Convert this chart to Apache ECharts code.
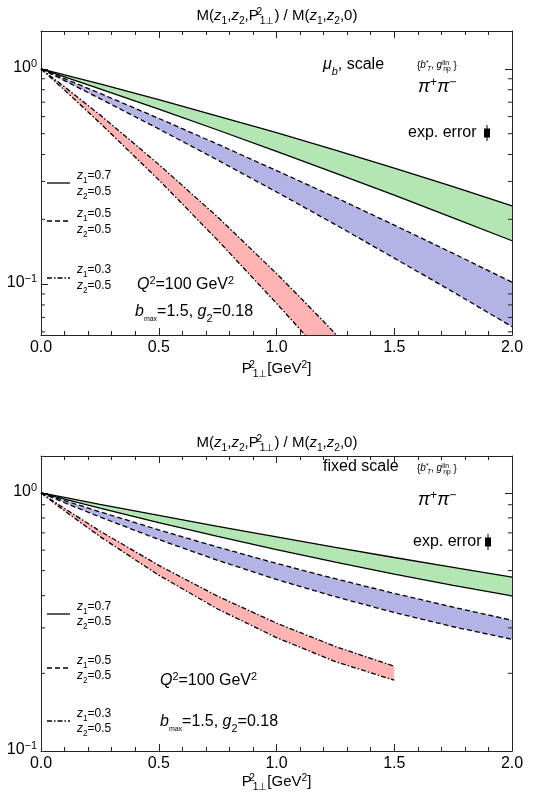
<!DOCTYPE html>
<html><head><meta charset="utf-8">
<script src="https://cdn.jsdelivr.net/npm/echarts@6/dist/echarts.min.js"></script>
<style>html,body{margin:0;padding:0;background:#fff}#c{width:547px;height:795px}</style>
</head><body><div id="c"></div>
<script>
// ---------- data ----------
const xTickLabels = ['0.0', '0.5', '1.0', '1.5', '2.0'];
const yMinorTop = [0.06, 0.07, 0.08, 0.09, 0.2, 0.3, 0.4, 0.5, 0.6, 0.7, 0.8, 0.9];
const yMinorBot = [0.2, 0.3, 0.4, 0.5, 0.6, 0.7, 0.8, 0.9];

// top panel: mu_b, scale
const topX = [0, 0.1, 0.25, 0.5, 0.75, 1.0, 1.25, 1.5, 1.75, 2.0];
const topGreenUp = [1, 0.938, 0.851, 0.719, 0.604, 0.505, 0.419, 0.346, 0.284, 0.231];
const topGreenLo = [1, 0.919, 0.808, 0.650, 0.520, 0.414, 0.328, 0.259, 0.203, 0.159];
const topBlueUp  = [1, 0.901, 0.770, 0.589, 0.447, 0.337, 0.253, 0.188, 0.139, 0.102];
const topBlueLo  = [1, 0.882, 0.728, 0.526, 0.377, 0.268, 0.189, 0.132, 0.0919, 0.0634];
const topRedX    = [0, 0.1, 0.25, 0.5, 0.75, 1.0, 1.1, 1.2, 1.3];
const topRedUp   = [1, 0.825, 0.612, 0.360, 0.205, 0.112, 0.0868, 0.0670, 0.0515];
const topRedLo   = [1, 0.797, 0.561, 0.305, 0.160, 0.0814, 0.0616, 0.0462, 0.0346];

// bottom panel: fixed scale
const botX = [0, 0.1, 0.25, 0.5, 0.75, 1.0, 1.25, 1.5, 1.75, 2.0];
const botGreenUp = [1, 0.960, 0.903, 0.818, 0.742, 0.675, 0.615, 0.562, 0.515, 0.472];
const botGreenLo = [1, 0.947, 0.874, 0.767, 0.678, 0.603, 0.539, 0.485, 0.438, 0.399];
const botBlueUp  = [1, 0.934, 0.845, 0.719, 0.617, 0.533, 0.465, 0.408, 0.361, 0.321];
const botBlueLo  = [1, 0.916, 0.807, 0.660, 0.548, 0.462, 0.396, 0.344, 0.303, 0.271];
const botRedX    = [0, 0.1, 0.25, 0.5, 0.75, 1.0, 1.25, 1.5];
const botRedUp   = [1, 0.870, 0.712, 0.524, 0.398, 0.313, 0.254, 0.213];
const botRedLo   = [1, 0.852, 0.678, 0.480, 0.355, 0.275, 0.222, 0.188];

// ---------- styling ----------
const F = "'Liberation Sans', Arial, Helvetica, sans-serif";
const GREEN = '#b3e6b3', BLUE = '#b3b3e6', RED = '#ffb3b3';
const AX = '#222';
const SOLID = 'solid', DASH = [5, 3], DASHDOT = [5, 2, 1.5, 2];

function rich(fs) {
  const s = Math.round(fs * 0.68 * 10) / 10;
  const base = (size, extra) => Object.assign({fontSize: size, fontFamily: F, fill: '#000', color: '#000', verticalAlign: 'bottom'}, extra);
  const pb = Math.round(fs * 0.22), pp = Math.round(fs * 0.62);
  return {
    n: base(fs, {padding: [0, 0, pb, 0]}),
    i: base(fs, {padding: [0, 0, pb, 0], fontStyle: 'italic'}),
    s: base(s, {padding: [0, 0, 0, 0]}),
    si: base(s, {padding: [0, 0, 0, 0], fontStyle: 'italic'}),
    t: base(Math.round(fs * 0.45), {padding: [0, 0, 1, 0]}),
    p: base(s, {padding: [0, 0, pp, 0]}),
    pi: base(s, {padding: [0, 0, pp, 0], fontStyle: 'italic'}),
    p0: base(s, {padding: [0, 0, pp, 0], width: 1}),
    p0i: base(s, {padding: [0, 0, pp, 0], width: 1, fontStyle: 'italic'})
  };
}
function txt(x, y, text, fs, align) {
  return {type: 'text', x: x, y: y, z: 100, silent: true,
    style: {text: text, rich: rich(fs), fill: '#000', align: align || 'left', verticalAlign: 'middle', fontSize: fs, fontFamily: F}};
}
function hline(x1, x2, y, dash) {
  return {type: 'line', z: 100, silent: true, shape: {x1: x1, y1: y, x2: x2, y2: y},
    style: {stroke: '#000', lineWidth: 1.3, lineDash: dash === SOLID ? null : dash}};
}
function errMark(x, y) {
  return [
    {type: 'line', z: 100, silent: true, shape: {x1: x, y1: y - 8, x2: x, y2: y + 8}, style: {stroke: '#000', lineWidth: 1}},
    {type: 'rect', z: 100, silent: true, shape: {x: x - 3, y: y - 4.5, width: 6, height: 9}, style: {fill: '#000'}}
  ];
}

const TITLE = '{n|M(}{i|z}{s|1}{n|,}{i|z}{s|2}{n|,P}{p0|2}{s|1⊥}{n|) / M(}{i|z}{s|1}{n|,}{i|z}{s|2}{n|,0)}';
const XNAME = '{n|P}{p0|2}{s|1⊥}{n|[GeV}{p|2}{n|]}';
const BT = '{{i|b}{p0|*}{si|T}{n|, }{i|g}{p0|lin}{s|np}{n| }}';

// ---------- axes ----------
function xAx(g, pos, lab, nameGap) {
  return {type: 'value', gridIndex: g, position: pos, min: 0, max: 2, interval: 0.5,
    axisLine: {show: true, onZero: false, lineStyle: {color: AX, width: 1}},
    axisTick: {show: true, inside: true, length: 7, lineStyle: {color: AX}},
    minorTick: {show: true, splitNumber: 5, length: 4, lineStyle: {color: AX}},
    splitLine: {show: false}, minorSplitLine: {show: false},
    axisLabel: {show: lab, margin: 5, color: '#000', fontSize: 16, fontFamily: F,
      formatter: v => xTickLabels[Math.round(v / 0.5)] || ''},
    name: lab ? XNAME : '', nameLocation: 'middle', nameGap: nameGap || 0,
    nameTextStyle: {rich: rich(15), fontSize: 15, fontFamily: F, color: '#000'}
  };
}
function yAx(g, pos, lab, min, max) {
  return {type: 'log', logBase: 10, gridIndex: g, position: pos, min: min, max: max,
    axisLine: {show: true, onZero: false, lineStyle: {color: AX, width: 1}},
    axisTick: {show: true, inside: true, length: 7, lineStyle: {color: AX}},
    splitLine: {show: false},
    axisLabel: {show: lab, margin: 4, color: '#000', fontSize: 16, fontFamily: F, rich: rich(16),
      showMinLabel: true, showMaxLabel: true,
      formatter: v => {
        const l = Math.log10(v), e = Math.round(l);
        if (Math.abs(l - e) > 1e-6) return '';
        return '{n|10}{p|' + (e < 0 ? '−' + (-e) : e) + '}';
      }}
  };
}

// ---------- series ----------
function band(xi, yi, xs, up, lo, color) {
  return {type: 'custom', xAxisIndex: xi, yAxisIndex: yi, clip: true, silent: true, z: 1,
    data: [[xs[0], up[0]]],
    renderItem: (params, api) => {
      const pts = [];
      for (let k = 0; k < xs.length; k++) pts.push(api.coord([xs[k], up[k]]));
      for (let k = xs.length - 1; k >= 0; k--) pts.push(api.coord([xs[k], lo[k]]));
      return {type: 'polygon', shape: {points: pts}, style: {fill: color}};
    }};
}
function line(xi, yi, xs, ys, dash) {
  return {type: 'line', xAxisIndex: xi, yAxisIndex: yi, data: xs.map((x, k) => [x, ys[k]]),
    symbol: 'none', showSymbol: false, silent: true, z: 3, clip: true,
    lineStyle: {color: '#000', width: 1.3, type: dash}};
}
function minorTicks(xi, yi, vals) {
  return {type: 'custom', xAxisIndex: xi, yAxisIndex: yi, silent: true, z: 5,
    data: vals.map(v => [0, v]),
    renderItem: (params, api) => {
      const v = api.value(1);
      const a = api.coord([0, v]), b = api.coord([2, v]);
      return {type: 'group', children: [
        {type: 'line', shape: {x1: a[0], y1: a[1], x2: a[0] + 4, y2: a[1]}, style: {stroke: AX, lineWidth: 1}},
        {type: 'line', shape: {x1: b[0] - 4, y1: b[1], x2: b[0], y2: b[1]}, style: {stroke: AX, lineWidth: 1}}
      ]};
    }};
}

const option = {
  animation: false,
  backgroundColor: '#fff',
  grid: [
    {left: 41, top: 31, width: 471, height: 304},
    {left: 41, top: 456, width: 471, height: 295}
  ],
  xAxis: [xAx(0, 'bottom', true, 25), xAx(0, 'top', false), xAx(1, 'bottom', true, 16), xAx(1, 'top', false)],
  yAxis: [yAx(0, 'left', true, 0.058, 1.5), yAx(0, 'right', false, 0.058, 1.5),
          yAx(1, 'left', true, 0.1, 1.39), yAx(1, 'right', false, 0.1, 1.39)],
  series: [
    band(0, 0, topX, topGreenUp, topGreenLo, GREEN),
    band(0, 0, topX, topBlueUp, topBlueLo, BLUE),
    band(0, 0, topRedX, topRedUp, topRedLo, RED),
    line(0, 0, topX, topGreenUp, SOLID), line(0, 0, topX, topGreenLo, SOLID),
    line(0, 0, topX, topBlueUp, DASH), line(0, 0, topX, topBlueLo, DASH),
    line(0, 0, topRedX, topRedUp, DASHDOT), line(0, 0, topRedX, topRedLo, DASHDOT),
    minorTicks(0, 0, yMinorTop),
    band(2, 2, botX, botGreenUp, botGreenLo, GREEN),
    band(2, 2, botX, botBlueUp, botBlueLo, BLUE),
    band(2, 2, botRedX, botRedUp, botRedLo, RED),
    line(2, 2, botX, botGreenUp, SOLID), line(2, 2, botX, botGreenLo, SOLID),
    line(2, 2, botX, botBlueUp, DASH), line(2, 2, botX, botBlueLo, DASH),
    line(2, 2, botRedX, botRedUp, DASHDOT), line(2, 2, botRedX, botRedLo, DASHDOT),
    minorTicks(2, 2, yMinorBot)
  ],
  graphic: [
    // top panel
    txt(277, 17, TITLE, 15, 'center'),
    txt(323, 67, '{i|μ}{si|b}{n|, scale}', 16),
    txt(417, 66, BT, 10),
    txt(418, 88, '{i|π}{p|+}{i|π}{p|−}', 18),
    txt(408, 135, '{n|exp. error}', 16),
    ...errMark(487, 133),
    txt(137, 286, '{i|Q}{p|2}{n|=100 GeV}{p|2}', 16),
    txt(135, 314, '{i|b}{t|max}{n|=1.5, }{i|g}{s|2}{n|=0.18}', 16),
    hline(47, 70, 183, SOLID), txt(77, 177, '{i|z}{s|1}{n|=0.7}', 12), txt(77, 193, '{i|z}{s|2}{n|=0.5}', 12),
    hline(47, 70, 221, DASH), txt(77, 215, '{i|z}{s|1}{n|=0.5}', 12), txt(77, 231, '{i|z}{s|2}{n|=0.5}', 12),
    hline(47, 70, 278, DASHDOT), txt(77, 271, '{i|z}{s|1}{n|=0.3}', 12), txt(77, 287, '{i|z}{s|2}{n|=0.5}', 12),
    // bottom panel
    txt(277, 444, TITLE, 15, 'center'),
    txt(323, 469, '{n|fixed scale}', 16),
    txt(417, 469, BT, 10),
    txt(418, 501, '{i|π}{p|+}{i|π}{p|−}', 18),
    txt(413, 544, '{n|exp. error}', 16),
    ...errMark(488, 542),
    txt(160, 682, '{i|Q}{p|2}{n|=100 GeV}{p|2}', 16),
    txt(160, 724, '{i|b}{t|max}{n|=1.5, }{i|g}{s|2}{n|=0.18}', 16),
    hline(47, 70, 614, SOLID), txt(77, 608, '{i|z}{s|1}{n|=0.7}', 12), txt(77, 623, '{i|z}{s|2}{n|=0.5}', 12),
    hline(47, 70, 668, DASH), txt(77, 662, '{i|z}{s|1}{n|=0.5}', 12), txt(77, 677, '{i|z}{s|2}{n|=0.5}', 12),
    hline(47, 70, 721, DASHDOT), txt(77, 715, '{i|z}{s|1}{n|=0.3}', 12), txt(77, 730, '{i|z}{s|2}{n|=0.5}', 12)
  ]
};
const chart = echarts.init(document.getElementById('c'), null, {renderer: 'canvas'});
chart.setOption(option);
</script></body></html>
